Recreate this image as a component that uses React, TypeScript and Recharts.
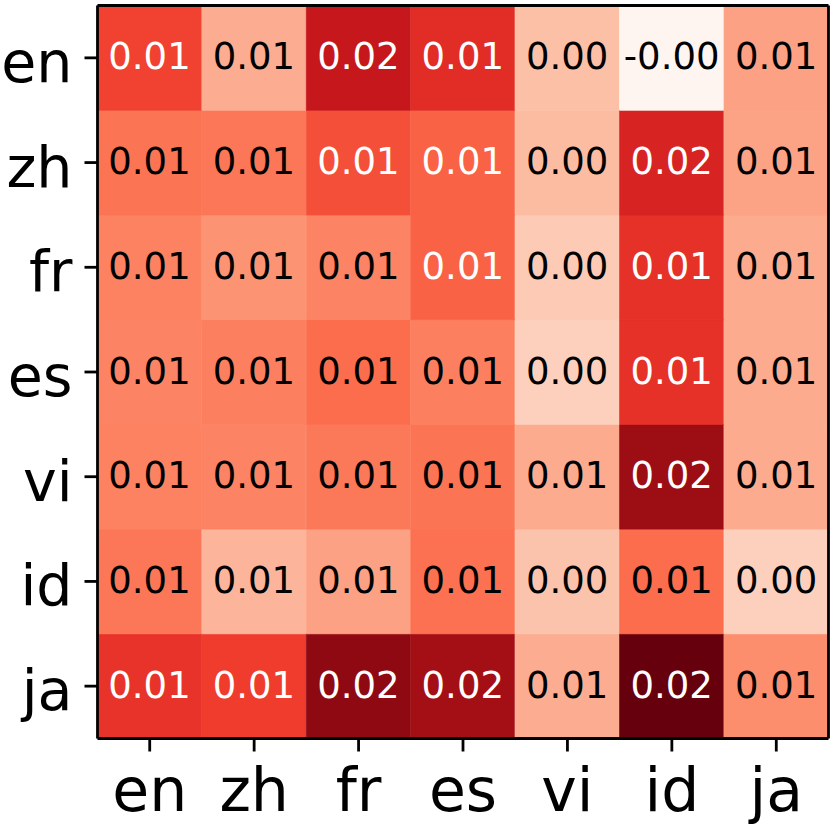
import { Bar, BarChart, Cell, LabelList, XAxis, YAxis } from 'recharts'

// row / column languages (rows listed top to bottom)
const langs = ['en', 'zh', 'fr', 'es', 'vi', 'id', 'ja']

// heat values, one array per row, columns in the same order as langs
const enRow = [0.0130, 0.0058, 0.0167, 0.0145, 0.0044, -0.0010, 0.0066]
const zhRow = [0.0098, 0.0096, 0.0121, 0.0110, 0.0047, 0.0153, 0.0064]
const frRow = [0.0088, 0.0075, 0.0087, 0.0110, 0.0036, 0.0142, 0.0059]
const esRow = [0.0087, 0.0089, 0.0103, 0.0089, 0.0031, 0.0142, 0.0059]
const viRow = [0.0088, 0.0087, 0.0094, 0.0098, 0.0059, 0.0195, 0.0059]
const idRow = [0.0096, 0.0052, 0.0066, 0.0100, 0.0041, 0.0103, 0.0031]
const jaRow = [0.0140, 0.0133, 0.0202, 0.0192, 0.0057, 0.0220, 0.0080]

const rowValues = [enRow, zhRow, frRow, esRow, viRow, idRow, jaRow]

const VMIN = -0.001
const VMAX = 0.022

// matplotlib "Reds"
const reds = [
  [255, 245, 240],
  [254, 224, 210],
  [252, 187, 161],
  [252, 146, 114],
  [251, 106, 74],
  [239, 59, 44],
  [203, 24, 29],
  [165, 15, 21],
  [103, 0, 13],
]

const norm = (v: number) => Math.min(1, Math.max(0, (v - VMIN) / (VMAX - VMIN)))

function redsColor(v: number) {
  const t = norm(v) * (reds.length - 1)
  const i = Math.min(reds.length - 2, Math.floor(t))
  const f = t - i
  const c = reds[i].map((a, k) => Math.round(a + (reds[i + 1][k] - a) * f))
  return `rgb(${c[0]},${c[1]},${c[2]})`
}

// one stacked unit per row in every column
const data = langs.map((col) => {
  const d: Record<string, string | number> = { col }
  langs.forEach((row) => (d[row] = 1))
  return d
})

const FONT = 'DejaVu Sans'
const FRAME = { stroke: '#000', strokeWidth: 2.8 }

const YTick = ({ x, y, payload }: any) => {
  const label = langs[langs.length - 1 - Math.floor(payload.value)]
  return (
    <text x={x} y={y} dy={24} textAnchor="end" fontSize={57} fontFamily={FONT} fill="#000">
      {label}
    </text>
  )
}

const XTick = ({ x, y, payload }: any) => (
  <text x={x} y={y} dy={59} textAnchor="middle" fontSize={60} fontFamily={FONT} fill="#000">
    {payload.value}
  </text>
)

const cellLabel = (rowIdx: number) => (props: any) => {
  const { x, y, width, height, index } = props
  const v = rowValues[rowIdx][index]
  return (
    <text
      x={x + width / 2}
      y={y + height / 2 + 11.5}
      textAnchor="middle"
      fontSize={37}
      fontFamily={FONT}
      fill={norm(v) > 0.5 ? '#fff' : '#000'}
    >
      {v.toFixed(2)}
    </text>
  )
}

export default function App() {
  const stackOrder = [...langs].reverse()
  return (
    <div style={{ position: 'absolute', left: 0, top: 0, background: '#fff' }}>
      <BarChart
        width={830}
        height={830}
        data={data}
        margin={{ top: 0, right: 0, left: 0, bottom: 0 }}
        barCategoryGap={0}
        barGap={0}
      >
        <XAxis
          dataKey="col"
          height={91.5}
          tickSize={13}
          tickMargin={0}
          tickLine={FRAME}
          axisLine={FRAME}
          tick={<XTick />}
          interval={0}
        />
        <XAxis
          xAxisId="top"
          dataKey="col"
          orientation="top"
          height={5.5}
          tick={false}
          tickLine={false}
          axisLine={FRAME}
        />
        <YAxis
          type="number"
          domain={[0, 7]}
          ticks={[0.5, 1.5, 2.5, 3.5, 4.5, 5.5, 6.5]}
          width={97.5}
          tickSize={13}
          tickMargin={12}
          tickLine={FRAME}
          axisLine={FRAME}
          tick={<YTick />}
          interval={0}
        />
        <YAxis
          yAxisId="right"
          orientation="right"
          type="number"
          domain={[0, 7]}
          width={1.5}
          tick={false}
          tickLine={false}
          axisLine={FRAME}
        />
        {stackOrder.map((row) => {
          const rowIdx = langs.indexOf(row)
          return (
            <Bar key={row} dataKey={row} stackId="heat" isAnimationActive={false}>
              {rowValues[rowIdx].map((v, j) => (
                <Cell key={j} fill={redsColor(v)} stroke={redsColor(v)} strokeWidth={0.8} />
              ))}
              <LabelList dataKey={row} content={cellLabel(rowIdx)} />
            </Bar>
          )
        })}
      </BarChart>
    </div>
  )
}
